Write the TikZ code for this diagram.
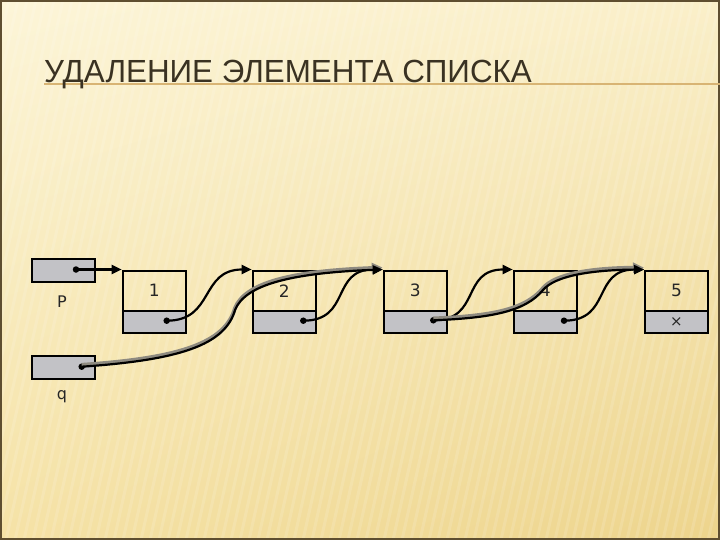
\documentclass[tikz,border=0pt]{standalone}
\usepackage{fontspec}
\setmainfont{Liberation Sans}
\newfontfamily\djv{DejaVu Sans}
\usetikzlibrary{arrows.meta,shadings}
\definecolor{bgTL}{HTML}{FCF5D8}
\definecolor{bgTR}{HTML}{FAEFC9}
\definecolor{bgBL}{HTML}{F5E2A6}
\definecolor{bgBR}{HTML}{EDD48C}
\definecolor{titlec}{HTML}{3A3222}
\definecolor{rulec}{HTML}{D8B474}
\definecolor{cellgray}{HTML}{C2C2C6}
\definecolor{shadowc}{HTML}{8E8A80}
\definecolor{framec}{HTML}{5E4E30}
\begin{document}
\begin{tikzpicture}[x=1pt,y=-1pt,
  upper/.style={draw=black,line width=2pt,minimum width=63pt,minimum height=40.5pt,inner sep=0pt,anchor=north west,font=\djv\fontsize{17}{17}\selectfont,text=black!85},
  lower/.style={draw=black,line width=2pt,fill=cellgray,minimum width=63pt,minimum height=21.5pt,inner sep=0pt,anchor=north west},
  ptr/.style={draw=black,line width=2pt,fill=cellgray,minimum width=63pt,minimum height=23pt,inner sep=0pt,anchor=north west},
  lbl/.style={font=\djv\fontsize{16}{16}\selectfont,text=black!85,inner sep=0pt},
  dot/.style={circle,fill=black,minimum size=6.5pt,inner sep=0pt},
  link/.style={draw=black,line width=2.2pt,-{Triangle[length=10pt,width=9pt]}},
  glow/.style={draw=shadowc,line width=3.8pt,-{Triangle[length=11pt,width=10pt]}},
]
\useasboundingbox (0,0) rectangle (720,540);
\shade[upper left=bgTL,upper right=bgTR,lower left=bgBL,lower right=bgBR] (0,0) rectangle (720,540);
\foreach \s in {0,9,...,860}{
  \draw[white,opacity=0.13,line width=3pt] (\s,0) -- (\s-120,540);
}
\draw[framec,line width=1.6pt] (0.8,0.8) rectangle (719.2,539.2);
% title
\draw[rulec,line width=1.2pt] (44,84) -- (720,84);
\node[anchor=base west,inner sep=0pt,text=titlec,font=\fontsize{32}{32}\selectfont,xscale=0.98] (title) at (44,82.3) {УДАЛЕНИЕ ЭЛЕМЕНТА СПИСКА};
% pointer boxes
\node[ptr] (pb) at (30.7,258) {};
\node[ptr] (qb) at (30.7,355) {};
\node[lbl] (pl) at (62,302) {P};
\node[lbl] (ql) at (62,397) {q};
% list nodes
\foreach \i/\x/\t in {1/121.7/1,2/251.7/2,3/382.7/3,4/512.7/4,5/644/5}{
  \node[upper] (n\i t) at (\x,269.5) {\t};
  \node[lower] (n\i b) at (\x,310) {};
}
\node[font=\djv\fontsize{15}{15}\selectfont,text=black!85,inner sep=0pt] (x5) at (n5b.center) {×};
% dots
\node[dot] (dp) at (76,269.5) {};
\node[dot] (dq) at (81.7,366.7) {};
\node[dot] (d1) at (166.7,320.7) {};
\node[dot] (d2) at (303.3,320.7) {};
\node[dot] (d3) at (433.3,320.3) {};
\node[dot] (d4) at (564,320.7) {};
\coordinate (m1) at (235,310);
\coordinate (m2) at (543,290);
% original links
\draw[link] (dp.center) -- (n1t.north west);
\draw[link] (d1.center) .. controls +(48,0) and +(-52,0) .. (n2t.north west);
\draw[link] (d2.center) .. controls +(48,0) and +(-52,0) .. (n3t.north west);
\draw[link] (d3.center) .. controls +(48,0) and +(-52,0) .. (n4t.north west);
\draw[link] (d4.center) .. controls +(48,0) and +(-52,0) .. (n5t.north west);
% new links (gray band + black line)
\draw[glow] ([yshift=1.9pt]dq.center) .. controls (180,358.1) and (225,343.1) .. ([yshift=1.9pt]m1) .. controls (245,283.1) and (290,271.1) .. ([yshift=1.9pt]n3t.north west);
\draw[link] (dq.center) .. controls (180,360) and (225,345) .. (m1) .. controls (245,285) and (290,273) .. (n3t.north west);
\draw[glow] ([yshift=1.9pt]d3.center) .. controls (490,316.1) and (525,310.1) .. ([yshift=1.9pt]m2) .. controls (555,274.1) and (590,268.1) .. ([yshift=1.9pt]n5t.north west);
\draw[link] (d3.center) .. controls (490,318) and (525,312) .. (m2) .. controls (555,276) and (590,270) .. (n5t.north west);
\end{tikzpicture}
\end{document}
